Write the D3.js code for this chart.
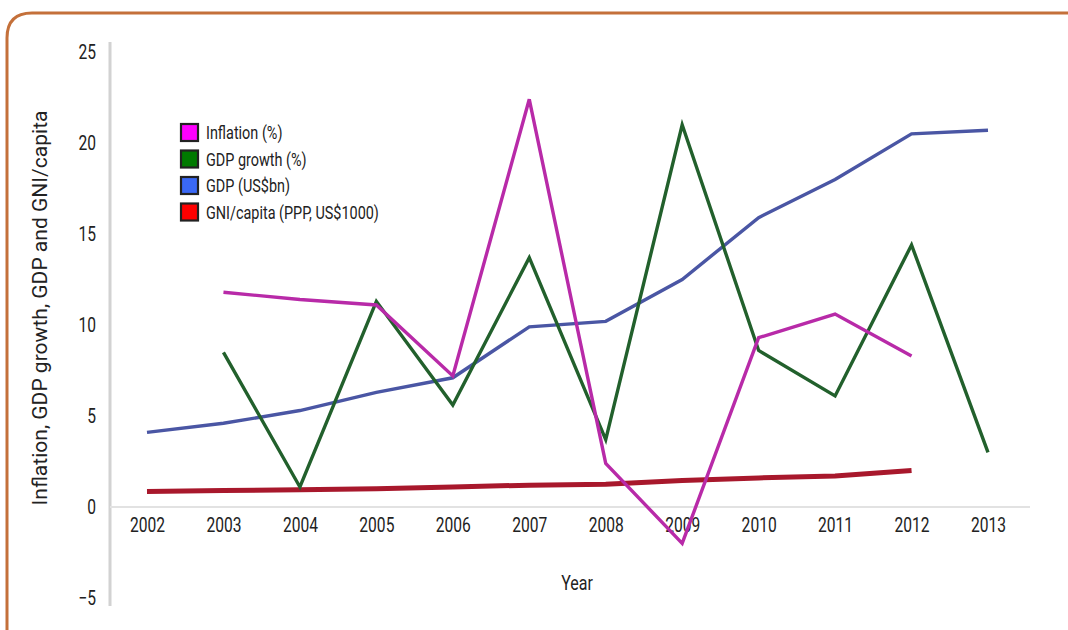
<!DOCTYPE html>
<html>
<head>
<meta charset="utf-8">
<script src="https://cdn.jsdelivr.net/npm/d3@7"></script>
<style>
  html, body { margin: 0; padding: 0; background: #fff; }
  svg { display: block; }
  text { font-family: "Roboto", "Open Sans", sans-serif; fill: #222; }
</style>
</head>
<body>
<svg id="chart" width="1068" height="630"></svg>
<script>
// Economic indicators, 2002–2013
const years = [2002, 2003, 2004, 2005, 2006, 2007, 2008, 2009, 2010, 2011, 2012, 2013];
const inflation = [null, 11.8, 11.4, 11.1, 7.2, 22.4, 2.4, -2.0, 9.3, 10.6, 8.3, null];
const gdpGrowth = [null, 8.5, 1.1, 11.3, 5.6, 13.7, 3.7, 21.0, 8.6, 6.1, 14.4, 3.0];
const gdp = [4.1, 4.6, 5.3, 6.3, 7.1, 9.9, 10.2, 12.5, 15.9, 18.0, 20.5, 20.7];
const gniPerCapita = [0.85, 0.9, 0.95, 1.0, 1.1, 1.2, 1.25, 1.45, 1.6, 1.7, 2.0, null];
const yTicks = [-5, 0, 5, 10, 15, 20, 25];

const seriesNames = ["Inflation (%)", "GDP growth (%)", "GDP (US$bn)", "GNI/capita (PPP, US$1000)"];
const seriesValues = [inflation, gdpGrowth, gdp, gniPerCapita];
const lineColors = ["#b82aa8", "#22602c", "#4a56a4", "#a8182c"];
const lineWidths = [3.4, 3.4, 3.4, 5];
const swatchColors = ["#ff00ff", "#007a00", "#3a68f5", "#ff0000"];

const svg = d3.select("#chart");

// squeeze text horizontally around its anchor point (condensed look)
function condense(sel, k) {
  sel.each(function () {
    const t = d3.select(this);
    const tx = +t.attr("x") || 0, ty = +t.attr("y") || 0;
    t.attr("transform", `translate(${tx},${ty}) scale(${k},1) translate(${-tx},${-ty})`);
  });
}

// frame with rounded top-left corner, running off the right and bottom edges
svg.append("path")
  .attr("d", "M7,640 L7,38 Q7,13 32,13 L1080,13")
  .attr("fill", "none")
  .attr("stroke", "#c4703a")
  .attr("stroke-width", 3);

const x = d3.scalePoint().domain(years).range([147, 988]);
const y = d3.scaleLinear().domain([-5, 25]).range([598, 52]);

// axis lines
svg.append("line")
  .attr("x1", 110).attr("x2", 110).attr("y1", 42).attr("y2", 606)
  .attr("stroke", "#d2d2d2").attr("stroke-width", 3);
svg.append("line")
  .attr("x1", 110).attr("x2", 1030).attr("y1", y(0)).attr("y2", y(0))
  .attr("stroke", "#e2e2e2").attr("stroke-width", 2);

// y-axis tick labels
const yAxis = d3.axisLeft(y).tickValues(yTicks).tickSize(0).tickPadding(0);
const gy = svg.append("g").attr("transform", "translate(96,0)").call(yAxis);
gy.select(".domain").remove();
gy.selectAll("text").attr("font-size", 20).attr("font-family", null).style("fill", "#222");
condense(gy.selectAll("text"), 0.78);

// x-axis tick labels
const xAxis = d3.axisBottom(x).tickSize(0).tickPadding(0).tickFormat(d3.format("d"));
const gx = svg.append("g").attr("transform", "translate(0,518)").call(xAxis);
gx.select(".domain").remove();
gx.selectAll("text").attr("font-size", 20).attr("font-family", null).style("fill", "#222");
condense(gx.selectAll("text"), 0.78);

// axis titles
const yTitle = svg.append("text")
  .attr("transform", "translate(47,308) rotate(-90)")
  .attr("text-anchor", "middle")
  .attr("font-size", 21)
  .text("Inflation, GDP growth, GDP and GNI/capita");
{
  const w = yTitle.node().getComputedTextLength();
  const k = 395 / w;
  yTitle.attr("transform", `translate(47,308) rotate(-90) scale(${k},1)`);
}
const xTitle = svg.append("text")
  .attr("x", 577).attr("y", 590)
  .attr("text-anchor", "middle")
  .attr("font-size", 20)
  .text("Year");
condense(xTitle, 0.8);

// series lines (red drawn first, so the others sit on top)
const line = d3.line()
  .defined(d => d.v !== null)
  .x(d => x(d.year))
  .y(d => y(d.v));

const order = [3, 2, 1, 0];
order.forEach(i => {
  const pts = years.map((yr, j) => ({ year: yr, v: seriesValues[i][j] }));
  svg.append("path")
    .datum(pts)
    .attr("d", line)
    .attr("fill", "none")
    .attr("stroke", lineColors[i])
    .attr("stroke-width", lineWidths[i])
    .attr("stroke-linejoin", "miter")
    .attr("stroke-linecap", "butt");
});

// legend
const legend = svg.append("g").attr("transform", "translate(181,124)");
const legendTexts = [];
seriesNames.forEach((name, i) => {
  const g = legend.append("g").attr("transform", `translate(0,${i * 26.5})`);
  g.append("rect")
    .attr("x", 0).attr("y", 0).attr("width", 17).attr("height", 17)
    .attr("fill", swatchColors[i])
    .attr("stroke", "#222").attr("stroke-width", 2.2);
  legendTexts.push(g.append("text")
    .attr("x", 25).attr("y", 15)
    .attr("font-size", 18.5)
    .text(name));
});
{
  const w = legendTexts[3].node().getComputedTextLength();
  const k = 173 / w;
  legendTexts.forEach(t => condense(t, k));
}
</script>
</body>
</html>
